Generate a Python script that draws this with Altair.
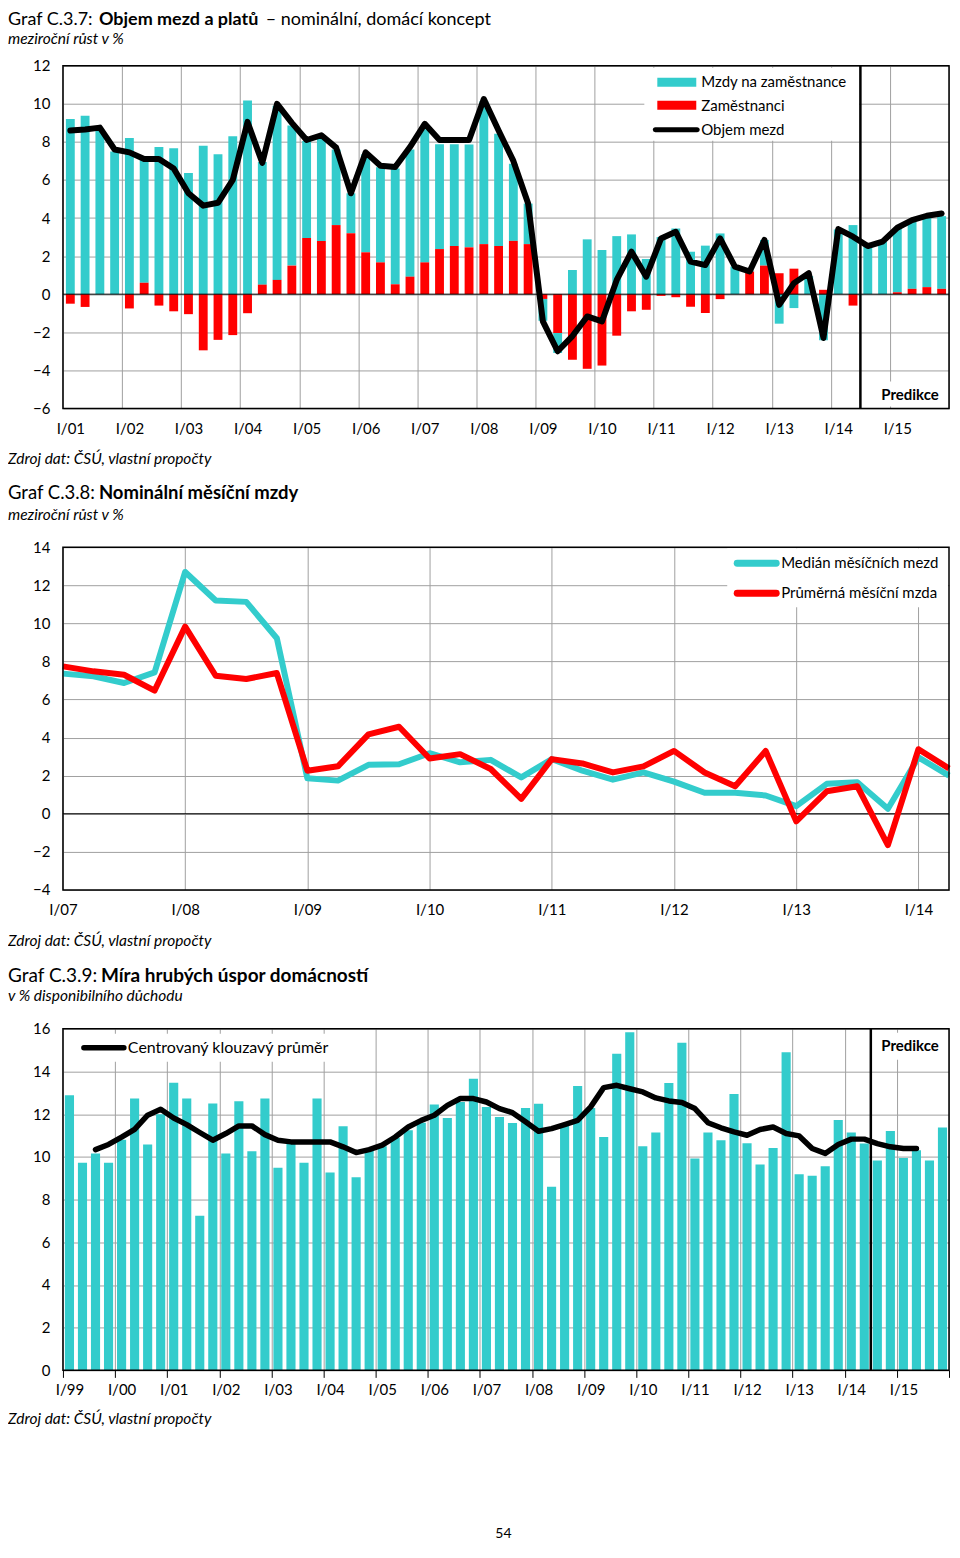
import altair as alt
import pandas as pd

TEAL = "#33CCCC"
RED = "#FF0000"
GRID = "#A0A0A0"
FONT = "Lato"

# ---------------- Graf C.3.7 (quarterly, I/01 .. IV/15) ----------------
labels1 = ["I/01", "I/02", "I/03", "I/04", "I/05", "I/06", "I/07", "I/08",
           "I/09", "I/10", "I/11", "I/12", "I/13", "I/14", "I/15"]
mzdy_na_zam = [9.2, 9.37, 8.6, 7.5, 8.2, 6.5, 7.73, 7.67, 6.37, 7.8,
               7.35, 8.3, 10.17, 6.45, 9.15, 7.36, 5.1, 5.4, 3.97, 2.1,
               5.15, 5.0, 6.08, 6.68, 7.0, 5.5, 5.34, 5.4, 7.5, 5.9,
               4.05, 2.13, -1.15, -1.05, 1.27, 2.88, 2.32, 3.05, 3.14, 1.85,
               3.0, 3.45, 2.23, 2.55, 3.19, 1.45, 0.05, 1.35, -1.55, -0.73,
               0.95, -2.42, 3.4, 3.63, 2.58, 2.76, 3.35, 3.52, 3.66, 3.82]
zamestnanci = [-0.5, -0.67, 0, 0, -0.75, 0.6, -0.6, -0.9, -1.05, -2.95,
               -2.4, -2.15, -1.0, 0.5, 0.75, 1.5, 2.95, 2.8, 3.63, 3.2,
               2.2, 1.67, 0.52, 0.92, 1.67, 2.37, 2.53, 2.46, 2.63, 2.53,
               2.8, 2.63, -0.25, -2.04, -3.44, -3.92, -3.75, -2.18, -0.9, -0.82,
               -0.09, -0.16, -0.66, -0.99, -0.26, 0, 1.19, 1.5, 1.1, 1.34,
               0, 0.23, 0, -0.6, 0, 0, 0.1, 0.28, 0.37, 0.28]
objem_mezd = [8.6, 8.65, 8.75, 7.6, 7.45, 7.1, 7.1, 6.6, 5.3, 4.65,
              4.8, 6.0, 9.05, 6.9, 10.0, 9.0, 8.1, 8.35, 7.7, 5.3,
              7.45, 6.75, 6.68, 7.73, 8.95, 8.1, 8.1, 8.1, 10.25, 8.6,
              7.0, 4.76, -1.43, -3.0, -2.2, -1.17, -1.43, 0.75, 2.23, 0.92,
              2.93, 3.28, 1.71, 1.53, 2.93, 1.45, 1.19, 2.85, -0.56, 0.58,
              1.1, -2.3, 3.42, 3.02, 2.53, 2.76, 3.49, 3.89, 4.12, 4.24]
pred_start1 = [54]

# ---------------- Graf C.3.8 (quarterly points, I/07 .. II/14) ----------------
labels2 = ["I/07", "I/08", "I/09", "I/10", "I/11", "I/12", "I/13", "I/14"]
median_mezd = [7.36, 7.22, 6.87, 7.43, 12.7, 11.2, 11.13, 9.22, 1.86, 1.74,
               2.57, 2.6, 3.18, 2.7, 2.83, 1.91, 2.87, 2.26, 1.79, 2.17,
               1.69, 1.1, 1.1, 0.96, 0.4, 1.57, 1.65, 0.26, 2.96, 2.0]
prumerna_mzda = [7.74, 7.48, 7.3, 6.47, 9.83, 7.25, 7.08, 7.39, 2.26, 2.49,
                 4.17, 4.57, 2.9, 3.13, 2.35, 0.78, 2.87, 2.64, 2.17, 2.49,
                 3.3, 2.17, 1.44, 3.3, -0.4, 1.18, 1.44, -1.65, 3.39, 2.38]

# ---------------- Graf C.3.9 (quarterly, I/99 .. IV/15) ----------------
labels3 = ["I/99", "I/00", "I/01", "I/02", "I/03", "I/04", "I/05", "I/06", "I/07",
           "I/08", "I/09", "I/10", "I/11", "I/12", "I/13", "I/14", "I/15"]
mira_uspor = [12.88, 9.72, 10.16, 9.72, 10.8, 12.73, 10.58, 12.0, 13.47, 12.73,
              7.24, 12.5, 10.16, 12.6, 10.26, 12.73, 9.49, 10.7, 9.72, 12.73,
              9.27, 11.43, 9.05, 10.3, 10.5, 10.9, 11.25, 11.6, 12.45, 11.82,
              12.57, 13.66, 12.34, 11.87, 11.59, 12.29, 12.49, 8.6, 11.48, 13.32,
              12.29, 10.93, 14.83, 15.84, 10.5, 11.14, 13.46, 15.34, 9.92, 11.14,
              10.78, 12.94, 10.64, 9.64, 10.42, 14.9, 9.19, 9.11, 9.56, 11.73,
              11.14, 10.62, 9.83, 11.21, 9.95, 10.31, 9.83, 11.37]
klouzavy_prumer = [None, None,
                   10.34, 10.58, 10.92, 11.29, 11.95, 12.23, 11.82, 11.51, 11.14, 10.78,
                   11.09, 11.45, 11.45, 11.04, 10.78, 10.7, 10.7, 10.7, 10.7,
                   10.47, 10.2, 10.34, 10.55, 10.93, 11.4, 11.71, 11.95, 12.41, 12.73,
                   12.73, 12.57, 12.26, 12.07, 11.64, 11.2, 11.32, 11.51, 11.71, 12.34,
                   13.24, 13.35, 13.19,
                   13.04, 12.76, 12.62, 12.55, 12.26, 11.6, 11.36, 11.17, 11.01, 11.28,
                   11.4, 11.09, 10.98, 10.39, 10.16, 10.58, 10.83, 10.83, 10.62, 10.47,
                   10.39, 10.39,
                   None, None]
pred_start3 = [62]

LX = -55  # left edge of the text column, relative to the plot area


def one():
    return alt.Data(values=[{}])


def T(text, x, y, size=15, weight="normal", style="normal", align="left",
      baseline="alphabetic"):
    return alt.Chart(one()).mark_text(
        text=text, align=align, baseline=baseline, font=FONT, fontSize=size,
        fontWeight=weight, fontStyle=style, color="black"
    ).encode(x=alt.value(x), y=alt.value(y))


def box(x0, x1, y0, y1, color="white"):
    return alt.Chart(one()).mark_rect(color=color).encode(
        x=alt.value(x0), x2=alt.value(x1), y=alt.value(y0), y2=alt.value(y1))


def seg(x0, x1, y, color, width):
    return alt.Chart(one()).mark_rule(color=color, strokeWidth=width, strokeCap="round").encode(
        x=alt.value(x0), x2=alt.value(x1), y=alt.value(y))


def frame(w, h):
    return alt.Chart(one()).mark_rect(filled=False, color="black", strokeWidth=1.5).encode(
        x=alt.value(0), x2=alt.value(w), y=alt.value(0), y2=alt.value(h))


def title_layers(num, bold, rest, y, ysub, sub, size=18.5, xbold=36, xrest=210):
    out = [T(f"Graf {num}:", LX, y, size), T(bold, xbold, y, size, weight="bold")]
    if rest:
        out.append(T(rest, xrest, y, size))
    out.append(T(sub, LX, ysub, 15.5, style="italic"))
    return out


def label_expr(labels, step, offset):
    arr = "[" + ",".join(f"'{l}'" for l in labels) + "]"
    return f"{arr}[round((datum.value - {offset}) / {step})]"


def yaxis(vals, pad=13):
    return alt.Axis(values=vals, grid=True, gridColor=GRID, gridWidth=1, domain=False,
                    ticks=False, labelPadding=pad, labelFont=FONT, labelFontSize=15,
                    labelColor="black", title=None, orient="left")


def xlabel_axis(vals, labels, step, offset, pad):
    return alt.Axis(values=vals, labelExpr=label_expr(labels, step, offset), grid=False,
                    ticks=False, domain=False, labelPadding=pad, labelFont=FONT,
                    labelFontSize=15, labelColor="black", labelFlush=False,
                    labelOverlap=False, title=None, orient="bottom")


SOURCE = "Zdroj dat: ČSÚ, vlastní propočty"

# ================= Panel 1 =================
W1, H1 = 887, 343
df1 = pd.DataFrame({"q": list(range(len(objem_mezd))), "mzdy": mzdy_na_zam,
                    "zam": zamestnanci, "objem": objem_mezd})
xs1 = alt.Scale(domain=[0, 60], nice=False, zero=False)
ys1 = alt.Scale(domain=[-6, 12], nice=False)
b1 = (alt.Chart(df1)
      .transform_calculate(x0="datum.q + 0.2", x1="datum.q + 0.8", xc="datum.q + 0.5", zero="0")
      .transform_calculate(base="datum.mzdy >= 0 ? max(datum.zam, 0) : min(datum.zam, 0)")
      .transform_calculate(top="datum.base + datum.mzdy"))

grid_ax1 = alt.Axis(values=list(range(0, 61, 4)), grid=True, gridColor=GRID, gridWidth=1,
                    labels=False, ticks=False, domain=False, title=None, orient="bottom")
teal1 = b1.mark_rect(color=TEAL).encode(
    x=alt.X("x0:Q", scale=xs1, axis=grid_ax1), x2="x1:Q",
    y=alt.Y("base:Q", scale=ys1, axis=yaxis(list(range(-6, 13, 2)))), y2="top:Q")
red1 = b1.mark_rect(color=RED).encode(
    x=alt.X("x0:Q", scale=xs1, axis=None), x2="x1:Q",
    y=alt.Y("zero:Q", scale=ys1, axis=None), y2="zam:Q")
zero1 = alt.Chart(pd.DataFrame({"v": [0]})).mark_rule(color="black", strokeWidth=1).encode(
    y=alt.Y("v:Q", scale=ys1, axis=None))
pred1 = alt.Chart(pd.DataFrame({"p": pred_start1})).mark_rule(color="black", strokeWidth=2.5).encode(
    x=alt.X("p:Q", scale=xs1, axis=None))
line1 = b1.mark_line(color="black", strokeWidth=6, strokeJoin="round", strokeCap="round").encode(
    x=alt.X("xc:Q", scale=xs1,
            axis=xlabel_axis([0.5 + 4 * k for k in range(len(labels1))], labels1, 4, 0.5, 13)),
    y=alt.Y("objem:Q", scale=ys1, axis=None))

p1_layers = [teal1, red1, zero1,
             box(582, 797, 2, 75),
             box(595, 634, 12, 21, TEAL), box(595, 634, 35, 44, RED),
             seg(593, 635, 64, "black", 5),
             T("Mzdy na zaměstnance", 639, 16, 15, baseline="middle"),
             T("Zaměstnanci", 639, 40, 15, baseline="middle"),
             T("Objem mezd", 639, 64, 15, baseline="middle"),
             box(801, 885, 316, 341),
             T("Predikce", 848, 335, 15, weight="bold", align="center"),
             pred1, line1, frame(W1, H1)]
p1_layers += title_layers("C.3.7", "Objem mezd a platů", "– nominální, domácí koncept",
                          -41, -22, "meziroční růst v %", size=18, xbold=36, xrest=203)
p1_layers.append(T(SOURCE, LX, H1 + 56, 15.5, style="italic"))
p1 = (alt.layer(*p1_layers).resolve_axis(x="independent", y="independent")
      .properties(width=W1, height=H1))

# ================= Panel 2 =================
W2, H2 = 887, 343
df2 = pd.DataFrame({"q": list(range(len(median_mezd))), "median": median_mezd,
                    "prumer": prumerna_mzda})
xs2 = alt.Scale(domain=[0, 29], nice=False, zero=False)
ys2 = alt.Scale(domain=[-4, 14], nice=False)
x_ax2 = alt.Axis(values=list(range(0, 29, 4)), labelExpr=label_expr(labels2, 4, 0),
                 grid=True, gridColor=GRID, gridWidth=1, ticks=False, domain=False,
                 labelPadding=13, labelFont=FONT, labelFontSize=15, labelColor="black",
                 labelFlush=False, labelOverlap=False, title=None, orient="bottom")
med2 = alt.Chart(df2).mark_line(color=TEAL, strokeWidth=6, strokeJoin="round").encode(
    x=alt.X("q:Q", scale=xs2, axis=x_ax2),
    y=alt.Y("median:Q", scale=ys2, axis=yaxis(list(range(-4, 15, 2)))))
avg2 = alt.Chart(df2).mark_line(color=RED, strokeWidth=6, strokeJoin="round").encode(
    x=alt.X("q:Q", scale=xs2, axis=None),
    y=alt.Y("prumer:Q", scale=ys2, axis=None))
zero2 = alt.Chart(pd.DataFrame({"v": [0]})).mark_rule(color="black", strokeWidth=1).encode(
    y=alt.Y("v:Q", scale=ys2, axis=None))
p2_layers = [zero2, med2, avg2,
             box(665, 886, 1, 60),
             seg(675, 714, 16, TEAL, 7), seg(675, 714, 46, RED, 7),
             T("Medián měsíčních mezd", 719, 16, 15, baseline="middle"),
             T("Průměrná měsíční mzda", 719, 46, 15, baseline="middle"),
             frame(W2, H2)]
p2_layers += title_layers("C.3.8", "Nominální měsíční mzdy", None, -48, -27,
                          "meziroční růst v %")
p2_layers.append(T(SOURCE, LX, H2 + 56, 15.5, style="italic"))
p2 = (alt.layer(*p2_layers).resolve_axis(x="independent", y="independent")
      .properties(width=W2, height=H2))

# ================= Panel 3 =================
W3, H3 = 887, 342
df3 = pd.DataFrame({"q": list(range(len(mira_uspor))), "mira": mira_uspor,
                    "ma": klouzavy_prumer})
xs3 = alt.Scale(domain=[0, 68], nice=False, zero=False)
ys3 = alt.Scale(domain=[0, 16], nice=False)
b3 = alt.Chart(df3).transform_calculate(x0="datum.q + 0.15", x1="datum.q + 0.85",
                                         xc="datum.q + 0.5", zero="0")
grid_ax3 = alt.Axis(values=list(range(0, 69, 4)), grid=True, gridColor=GRID, gridWidth=1,
                    labels=False, ticks=True, tickSize=7, tickColor="black", tickWidth=1,
                    domain=False, title=None, orient="bottom")
bars3 = b3.mark_rect(color=TEAL).encode(
    x=alt.X("x0:Q", scale=xs3, axis=grid_ax3), x2="x1:Q",
    y=alt.Y("zero:Q", scale=ys3, axis=yaxis(list(range(0, 17, 2)))), y2="mira:Q")
line3 = b3.mark_line(color="black", strokeWidth=5.5, strokeJoin="round", strokeCap="round").encode(
    x=alt.X("xc:Q", scale=xs3,
            axis=xlabel_axis([0.5 + 4 * k for k in range(len(labels3))], labels3, 4, 0.5, 12)),
    y=alt.Y("ma:Q", scale=ys3, axis=None))
pred3 = alt.Chart(pd.DataFrame({"p": pred_start3})).mark_rule(color="black", strokeWidth=2.5).encode(
    x=alt.X("p:Q", scale=xs3, axis=None))
p3_layers = [bars3,
             box(14, 264, 5, 33),
             seg(21, 61, 19, "black", 5.5),
             T("Centrovaný klouzavý průměr", 65, 19, 16, baseline="middle"),
             box(811, 885, 4, 31),
             T("Predikce", 848, 22, 15, weight="bold", align="center"),
             pred3, line3, frame(W3, H3)]
p3_layers += title_layers("C.3.9", "Míra hrubých úspor domácností", None, -47, -28,
                          "v % disponibilního důchodu", size=19, xbold=38)
p3_layers.append(T(SOURCE, LX, H3 + 54, 15.5, style="italic"))
p3_layers.append(T("54", 441, H3 + 168, 14, align="center"))
p3 = (alt.layer(*p3_layers).resolve_axis(x="independent", y="independent")
      .properties(width=W3, height=H3))

chart = (alt.vconcat(p1, p2, p3, spacing=139, bounds="flush")
         .properties(padding={"top": 2, "left": 0, "right": 0, "bottom": 0},
                     background="white")
         .configure_view(stroke=None))

chart.save("out.html", embed_options={"renderer": "svg", "actions": False})
